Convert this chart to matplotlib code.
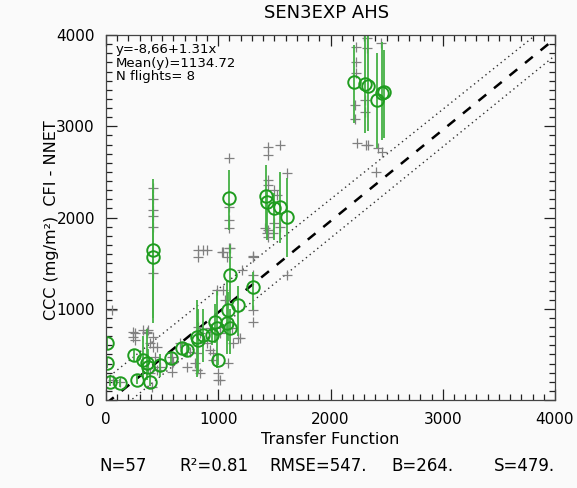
import numpy as np
import matplotlib
matplotlib.use("Agg")
import matplotlib.pyplot as plt
from matplotlib.ticker import MultipleLocator

# ---- data ----
# green mean points (x, y) with error bar limits (lo, hi)
mean_x = [12, 12, 36, 125, 273, 252, 333, 362, 377, 392, 481, 579, 674, 719, 808, 823,
          867, 941, 971, 986, 1001, 1075, 1090, 1105, 1105, 1179, 1313,
          422, 422,
          1095, 1425, 1431, 1496, 1550, 1609,
          2210, 2308, 2331, 2412, 2462, 2480]
mean_y = [621, 402, 201, 183, 219, 493, 438, 402, 365, 201, 384, 457, 566, 548, 694, 658,
          713, 713, 859, 786, 438, 840, 987, 1370, 786, 1041, 1235,
          1644, 1571,
          2217, 2236, 2174, 2101, 2111, 2002,
          3482, 3460, 3445, 3288, 3369, 3370]
err_lo = [550, 350, 150, 140, 170, 420, 250, 220, 280, 150, 250, 400, 500, 480, 250, 300,
          420, 600, 620, 350, 380, 500, 650, 1100, 500, 700, 990,
          840, 900,
          1863, 1863, 1750, 1754, 1717, 1571,
          3033, 2923, 2950, 2759, 2850, 2868]
err_hi = [700, 460, 260, 230, 270, 560, 700, 780, 560, 300, 500, 520, 640, 600, 1100, 1000,
          1000, 830, 1050, 1200, 500, 1300, 1180, 1700, 1000, 1250, 1400,
          2420, 2300,
          2521, 2575, 2300, 2265, 2502, 2429,
          3891, 4000, 4000, 3800, 3928, 3836]

# gray individual samples
pts_x = [65, 125, 244, 244, 333, 362, 377, 422, 392, 422, 451, 437, 377, 392, 407, 451, 481,
         585, 600, 659, 748, 793, 823, 838, 808, 838, 897, 927, 956, 1001, 1016, 1016,
         986, 1045, 1060, 1120, 1135, 1090, 1194, 1209, 1313, 1313, 1313, 1313,
         823, 897, 823, 1045, 1075, 1432, 1491, 1417,
         50, 258, 258, 362, 585, 585, 719, 808, 808, 956, 1001, 1179, 927, 1016,
         422, 422, 422, 422, 422, 422,
         1095, 1095, 1095, 1095, 1095, 1440, 1440, 1550, 1609, 1440, 1440, 1496, 1520,
         1440, 1440, 1550, 1609, 1496, 867, 1030, 1104, 1312,
         2224, 2224, 2224, 2221, 2221, 2233, 2322, 2322, 2308, 2308, 2314, 2331,
         2450, 2420, 2462, 2406]
pts_y = [219, 201, 749, 694, 767, 731, 767, 694, 621, 585, 585, 475, 347, 292, 146, 329, 365,
         475, 420, 621, 530, 402, 804, 731, 329, 292, 621, 548, 438, 292, 219, 804,
         1206, 1206, 1096, 786, 621, 402, 676, 1425, 1370, 987, 859, 1571,
         1644, 1644, 1564, 1626, 1571, 1827, 1827, 1882,
         986, 731, 658, 749, 402, 311, 365, 512, 329, 512, 219, 676, 786, 731,
         2323, 2203, 2082, 2016, 1896, 1392,
         2648, 2119, 1973, 1881, 1666, 2776, 2685, 2795, 2491, 2411, 2356, 2301, 2247,
         1863, 1790, 1900, 1370, 1936, 1644, 1626, 1662, 1578,
         3873, 3708, 3581, 3233, 3076, 2821, 3964, 3855, 3288, 3160, 2795, 2795,
         3909, 2759, 2722, 2503]

line_x = [0, 4000]
dash_y = [-40, 3960]
upper_y = [230, 4170]
lower_y = [-225, 3775]

title = "SEN3EXP AHS"
xlabel = "Transfer Function"
ylabel = "CCC (mg/m\u00b2)  CFI - NNET"
info_lines = ["y=-8,66+1.31x", "Mean(y)=1134.72", "N flights= 8"]
stats = ["N=57", "R\u00b2=0.81", "RMSE=547.", "B=264.", "S=479."]
stats_xpix = [123, 214, 318, 422, 524]

# ---- figure ----
W, H = 577, 488
fig = plt.figure(figsize=(W / 100, H / 100), dpi=100, facecolor="#fafafa")
ax = fig.add_axes([106 / W, 1 - 400 / H, 449 / W, 365 / H], facecolor="#fafafa")

ax.plot(line_x, upper_y, color="#333333", lw=1.0, ls=(0, (1, 2.5)))
ax.plot(line_x, lower_y, color="#333333", lw=1.0, ls=(0, (1, 2.5)))
ax.plot(line_x, dash_y, color="black", lw=1.8, ls=(0, (4, 4)))

ax.plot(pts_x, pts_y, ls="none", marker="+", ms=7, mew=0.9, color="#808080")

mx = np.array(mean_x)
ax.vlines(mx, err_lo, err_hi, color="#45b045", lw=1.3)
ax.plot(mean_x, mean_y, ls="none", marker="o", ms=9, mfc="none", mec="#1f9c1f", mew=1.4)

ax.set_xlim(0, 4000)
ax.set_ylim(0, 4000)
ax.xaxis.set_major_locator(MultipleLocator(1000))
ax.yaxis.set_major_locator(MultipleLocator(1000))
ax.xaxis.set_minor_locator(MultipleLocator(100))
ax.yaxis.set_minor_locator(MultipleLocator(100))
ax.tick_params(which="both", direction="in", top=True, right=True, color="#222222", width=0.9)
ax.tick_params(which="major", length=8, labelsize=11)
ax.tick_params(axis="x", which="major", pad=9)
ax.tick_params(axis="y", which="major", pad=8)
ax.tick_params(which="minor", length=4)
for s in ax.spines.values():
    s.set_color("#444444")
    s.set_linewidth(0.9)

fig.text(327 / W, 1 - 13 / H, title, fontsize=13, ha="center", va="center")
fig.text(330 / W, 1 - 439 / H, xlabel, fontsize=11.5, ha="center", va="center")
fig.text(52 / W, 1 - 220 / H, ylabel, fontsize=11.5, ha="center", va="center", rotation=90)

for i, t in enumerate(info_lines):
    fig.text(116 / W, 1 - (50 + 13 * i) / H, t, fontsize=9.5, va="center", ha="left")

for t, xp in zip(stats, stats_xpix):
    fig.text(xp / W, 1 - 466 / H, t, fontsize=12, ha="center", va="center")

fig.savefig("out.png", dpi=100, facecolor=fig.get_facecolor())
